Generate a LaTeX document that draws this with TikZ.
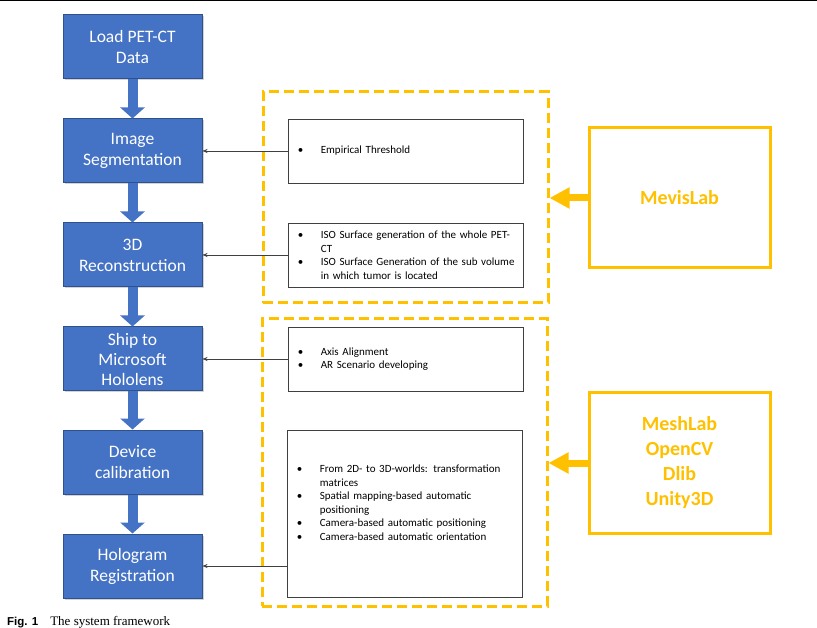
\documentclass[tikz,border=0pt]{standalone}
\usepackage{fontspec}
\setmainfont{Carlito}
\newfontfamily\capserif{Liberation Serif}
\newfontfamily\capsans{Liberation Sans}
\usetikzlibrary{arrows.meta,positioning,shadows}
\definecolor{fwblue}{RGB}{68,114,196}
\definecolor{fwedge}{RGB}{47,82,143}
\definecolor{fwgold}{RGB}{255,192,0}
\definecolor{fwgray}{RGB}{64,64,64}
\newcommand{\bul}{\hspace*{7.5pt}\makebox[23pt][l]{\textbullet}}
\newcommand{\ind}{\hspace*{30.5pt}}
\tikzset{
  stage/.style={fill=fwblue, draw=fwedge, line width=1pt, minimum width=139pt, minimum height=64pt,
    inner sep=0pt, text=white, align=center, font=\fontsize{17.5}{21}\selectfont,
    drop shadow={shadow xshift=1.5pt, shadow yshift=-1.5pt, opacity=0.35}},
  info/.style={draw=fwgray, line width=0.7pt, minimum width=235pt, minimum height=64pt,
    text width=230pt, inner xsep=2.5pt, align=left, font=\fontsize{11}{13.5}\selectfont},
  infotxt/.style={text width=230pt, inner xsep=2.5pt, align=left, font=\fontsize{11}{13.5}\selectfont},
  grp/.style={draw=fwgold, line width=3pt, dash pattern=on 10pt off 5pt, minimum width=285pt},
  tool/.style={draw=fwgold, line width=3pt, minimum width=181pt, minimum height=140pt,
    text=fwgold, align=center, font=\bfseries\fontsize{20}{25}\selectfont},
  flow/.style={fwblue, line width=10pt, -{Triangle[length=11pt, width=24pt]}},
  link/.style={fwgray, line width=0.6pt, -{Stealth[length=5pt, width=4pt]}},
  feed/.style={fwgold, line width=7pt, -{Triangle[length=20pt, width=20pt]}}
}

\begin{document}
\begin{tikzpicture}[x=1pt, y=-1pt]
\useasboundingbox (0,0) rectangle (817,628);
\draw[line width=1.5pt] (0,0.75) -- (817,0.75);
% Stages
\node[stage] (load) at (132.5,47) {Load PET-CT\\Data};
\node[stage] (seg) at (132.5,151) {Image\\Segmentation};
\node[stage] (recon) at (132.5,255) {3D\\Reconstruction};
\node[stage, font=\fontsize{17.5}{20}\selectfont] (ship) at (132.5,359) {Ship to\\Microsoft\\Hololens};
\node[stage] (calib) at (132.5,462) {Device\\calibration};
\node[stage] (regist) at (132.5,566) {Hologram\\Registration};
% Flow arrows
\draw[flow] (load) -- (seg);
\draw[flow] (seg) -- (recon);
\draw[flow] (recon) -- (ship);
\draw[flow] (ship) -- (calib);
\draw[flow] (calib) -- (regist);
% Groups
\node[grp, minimum height=211pt] (mevisgrp) at (405.5,197.5) {};
\node[grp, minimum height=287pt] (toolgrp) at (404.5,462.5) {};
% Methods
\node[info, right=85pt of seg] (thr) {\bul Empirical Threshold};
\node[info, right=85pt of recon] (iso) {\bul ISO Surface generation of the whole PET-\\\ind CT\\\bul ISO Surface Generation of the sub volume\\\ind in which tumor is located};
\node[info, right=85pt of ship] (axis) {\bul Axis Alignment\\\bul AR Scenario developing};
\node[info, minimum height=167pt] (reg) at (404.5,513.5) {};
\node[infotxt, anchor=west] (regtxt) at ([yshift=11pt]reg.west) {\bul From 2D- to 3D-worlds: transformation\\\ind matrices\\\bul Spatial mapping-based automatic\\\ind positioning\\\bul Camera-based automatic positioning\\\bul Camera-based automatic orientation};
\draw[link] (thr) -- (seg);
\draw[link] (iso) -- (recon);
\draw[link] (axis) -- (ship);
\draw[link] (regist.east -| reg.west) -- (regist.east);
% Tools
\node[tool] (mevis) at (679.5,198) {MevisLab};
\node[tool] (tools) at (679.5,463) {MeshLab\\OpenCV\\Dlib\\Unity3D};
\draw[feed] (mevis.west) -- (mevis.west -| mevisgrp.east);
\draw[feed] (tools.west) -- (tools.west -| toolgrp.east);
% Caption
\node[anchor=base west, inner sep=0pt] (cap) at (7,625) {{\capsans\bfseries\fontsize{11.5}{13}\selectfont Fig. 1}\hspace{12pt}{\capserif\fontsize{13}{15}\selectfont The system framework}};
\end{tikzpicture}
\end{document}
